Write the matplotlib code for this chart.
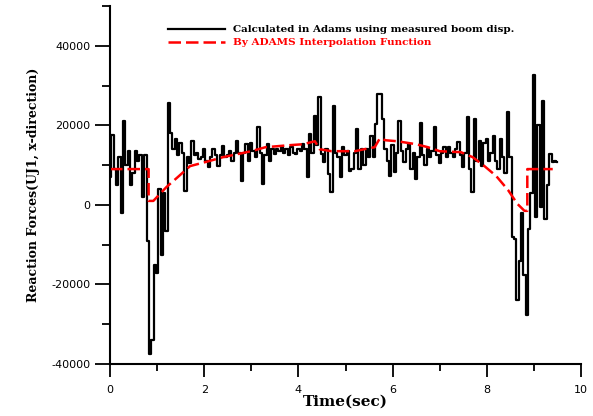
import numpy as np
import matplotlib
matplotlib.use("Agg")
import matplotlib.pyplot as plt
from matplotlib.ticker import MultipleLocator

plt.rcParams["axes.unicode_minus"] = False

# boom reaction force sampled every 0.05 s
time_step = 0.05
measured_force = [
    7000, 17500, 9000, 5000, 12000, -2000, 21000, 10000, 13500, 5000,
    8000, 13500, 11000, 12500, 2000, 12500, -9000, -37500, -34000, -15000,
    -17000, 4000, -12500, 3000, -6500, 25500, 18000, 14000, 16500, 12500,
    15500, 13000, 3500, 12000, 10500, 16000, 12500, 13000, 11500, 12000,
    14000, 11000, 9500, 12000, 14000, 12500, 9750, 12500, 14750, 12000,
    12500, 13500, 11000, 13000, 16000, 13000, 6000, 13000, 15250, 11000,
    15500, 13500, 12000, 19500, 13000, 5250, 12500, 15250, 11000, 14000,
    12750, 14000, 13500, 14500, 13000, 14000, 12500, 14500, 13000, 12750,
    14000, 13500, 15250, 14000, 7000, 17750, 13000, 22250, 15000, 27000,
    12750, 10750, 14000, 7750, 3250, 24750, 13000, 12000, 7000, 14500,
    12500, 13500, 8500, 9000, 13000, 19000, 9000, 14000, 10000, 14000,
    12000, 17250, 12000, 20250, 28000, 28000, 21500, 14000, 11000, 7250,
    15000, 8250, 13000, 21000, 13500, 10750, 14000, 15250, 9000, 13000,
    6500, 12000, 20500, 12500, 10000, 14000, 12000, 13500, 19500, 12500,
    10500, 13000, 14500, 12000, 14500, 13000, 12000, 14000, 15750, 12500,
    9500, 13000, 22000, 9000, 3250, 21500, 11000, 16000, 9750, 15500,
    16500, 11000, 13000, 17250, 11000, 9000, 16500, 12000, 8000, 23250,
    12000, -8000, -8500, -24000, -14000, -2000, -17750, -27750, -6000, 3000,
    32750, -3000, 20000, -500, 26000, -3500, 5000, 12750, 10750, 11000,
    10750,
]
measured_time = np.arange(len(measured_force)) * time_step

# ADAMS interpolation function breakpoints
interp_time = [0, 0.82, 0.82, 0.92, 1.2, 1.44, 1.7, 2.1, 2.4, 2.7, 3.0, 3.3,
               3.8, 4.1, 4.35, 4.45, 4.7, 5.2, 5.4, 5.62, 5.73, 5.85, 6.1,
               6.5, 6.75, 7.0, 7.45, 7.7, 7.95, 8.2, 8.45, 8.65, 8.8, 8.86,
               8.86, 9.4]
interp_force = [9000, 9000, 1000, 1000, 4500, 7000, 9750, 11000, 12000, 12750,
                13500, 14500, 15000, 15250, 16000, 14000, 13500, 13500, 14000,
                14500, 16750, 16250, 16000, 15250, 14500, 13500, 13250, 12000,
                9750, 7250, 3750, 250, -1500, -1500, 9000, 9000]

fig = plt.figure(figsize=(5.93, 4.16), dpi=100)
ax = fig.add_axes([110 / 593, 52 / 416, 471 / 593, 358 / 416])

ax.plot(measured_time, measured_force, color="black", lw=1.6,
        drawstyle="steps-mid",
        label="Calculated in Adams using measured boom disp.")
ax.plot(interp_time, interp_force, color="red", lw=1.8, dashes=(5, 2),
        label="By ADAMS Interpolation Function")

ax.set_xlim(0, 10)
ax.set_ylim(-40000, 50000)
ax.xaxis.set_major_locator(MultipleLocator(2))
ax.xaxis.set_minor_locator(MultipleLocator(1))
ax.yaxis.set_major_locator(MultipleLocator(20000))
ax.yaxis.set_minor_locator(MultipleLocator(10000))

for side in ("top", "right"):
    ax.spines[side].set_visible(False)
for side in ("left", "bottom"):
    ax.spines[side].set_linewidth(1.5)

ax.tick_params(axis="y", which="major", direction="out", length=11, width=1.3,
               labelsize=8, pad=3)
ax.tick_params(axis="y", which="minor", direction="out", length=6, width=1.3)
ax.tick_params(axis="x", which="major", direction="out", length=9, width=1.3,
               labelsize=8, pad=6)
ax.tick_params(axis="x", which="minor", direction="out", length=5, width=1.3)

ax.set_xlabel("Time(sec)", family="DejaVu Serif", fontweight="bold",
              fontsize=11, labelpad=0)
ax.set_ylabel("Reaction Forces(UJ1, x-direction)", family="DejaVu Serif",
              fontweight="bold", fontsize=9, labelpad=8)

leg = fig.legend(loc="upper left", bbox_to_anchor=(168 / 593, 1 - 25 / 416),
                 frameon=False, prop={"family": "DejaVu Serif",
                                      "weight": "bold", "size": 7.5},
                 handlelength=5.5, handletextpad=0.7, labelspacing=0.35,
                 borderpad=0, borderaxespad=0)
for text, color in zip(leg.get_texts(), ["black", "red"]):
    text.set_color(color)

fig.savefig("out.png", dpi=100)
